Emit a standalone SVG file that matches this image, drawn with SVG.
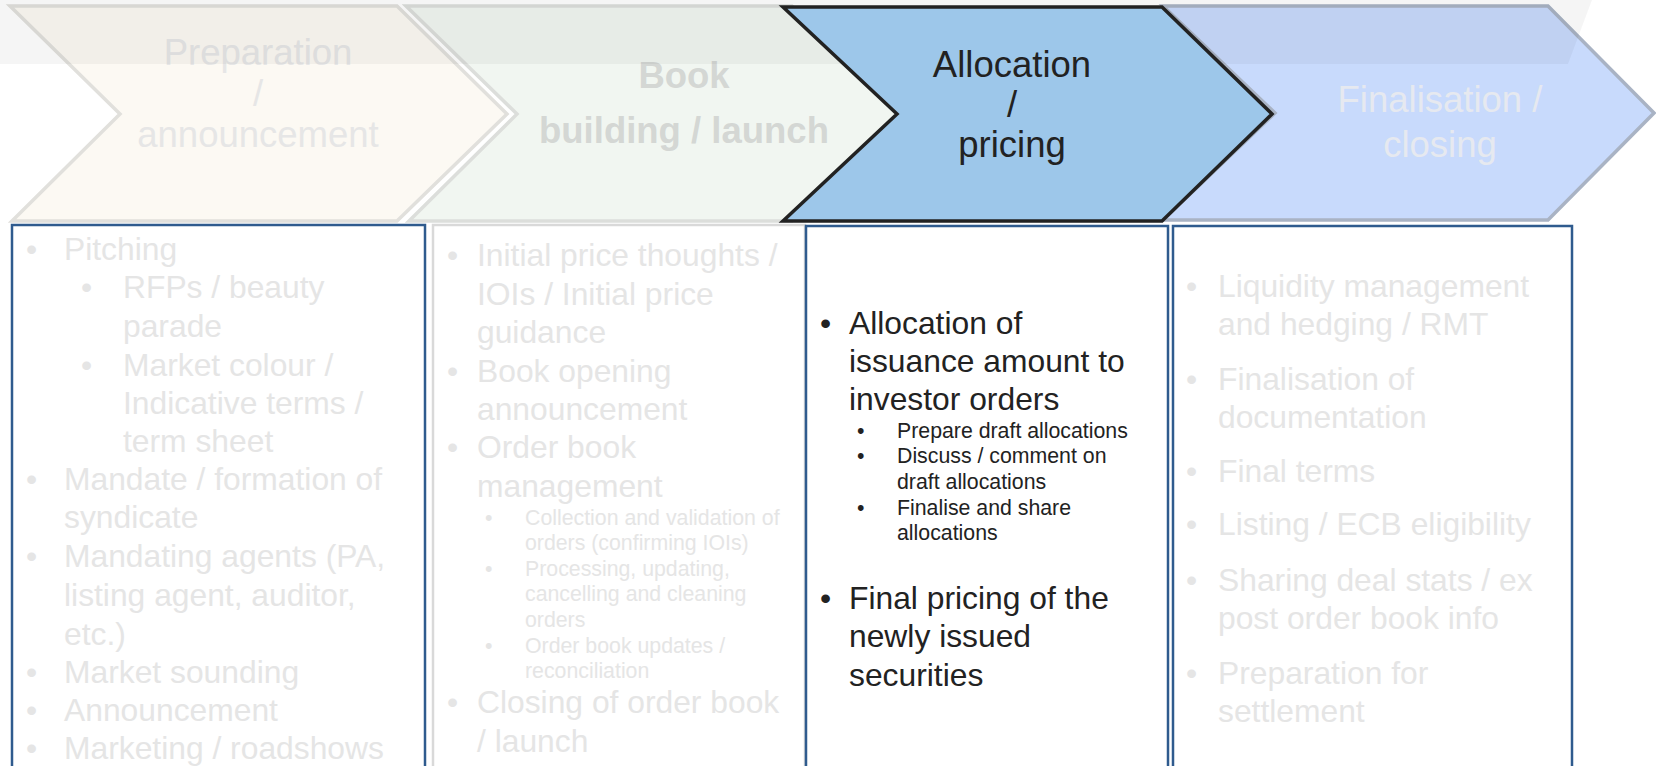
<svg xmlns="http://www.w3.org/2000/svg" width="1656" height="766" viewBox="0 0 1656 766">
<style>
text{font-family:"Liberation Sans",Arial,sans-serif}
.chv{stroke-width:3.5;stroke-linejoin:miter}
.ch{font-size:36.5px;text-anchor:middle}
.big{font-size:31.8px}
.sm{font-size:21.3px}
.faint{fill:#e5e5e5}
.dark{fill:#222222}
.box{fill:#ffffff;stroke:#2f5b8e;stroke-width:2.5}
</style>
<rect x="0" y="0" width="1656" height="766" fill="#ffffff"/>
<g id="chevron-preparation">
<polygon class="chv" points="10,6 397,6 507,114 397,221 12,221 120,114" fill="#fcf9f3" stroke="#e1e0dc"/>
<text class="ch" x="258" y="65" fill="#e6e6e6">Preparation</text>
<text class="ch" x="258" y="106" fill="#e6e6e6">/</text>
<text class="ch" x="258" y="147" fill="#e6e6e6">announcement</text>
</g>
<g id="chevron-bookbuilding">
<polygon class="chv" points="406,6 792,6 902,114 792,221 409,221 517,114" fill="#f1f6f1" stroke="#dcdedb"/>
<text class="ch" x="684" y="88" fill="#d4d7d4" font-weight="bold">Book</text>
<text class="ch" x="684" y="143" fill="#d4d7d4" font-weight="bold">building / launch</text>
</g>
<g id="chevron-finalisation">
<polygon class="chv" points="1163,6 1548,6 1654,113 1548,220 1163,220 1275,113" fill="#c8dafc" stroke="#a9b3c4"/>
<text class="ch" x="1440" y="112" fill="#e6e9f0">Finalisation /</text>
<text class="ch" x="1440" y="157" fill="#e6e9f0">closing</text>
</g>
<polygon id="shine" points="0,0 1592,0 1568,64 0,64" fill="#000000" opacity="0.04"/>
<g id="chevron-allocation">
<polygon class="chv" points="783,7 1162,7 1272,114 1162,221 783,221 897,114" fill="#9dc7ea" stroke="#222222"/>
<text class="ch dark" x="1012" y="77">Allocation</text>
<text class="ch dark" x="1012" y="117">/</text>
<text class="ch dark" x="1012" y="157">pricing</text>
</g>
<g id="box-preparation">
<rect class="box" x="12" y="225" width="413" height="580"/>
<g class="big faint">
<text x="26" y="260">•</text><text x="64" y="260">Pitching</text>
<text x="81" y="298">•</text><text x="123" y="298">RFPs / beauty</text>
<text x="123" y="337">parade</text>
<text x="81" y="376">•</text><text x="123" y="376">Market colour /</text>
<text x="123" y="414">Indicative terms /</text>
<text x="123" y="452">term sheet</text>
<text x="26" y="490">•</text><text x="64" y="490">Mandate / formation of</text>
<text x="64" y="528">syndicate</text>
<text x="26" y="567">•</text><text x="64" y="567">Mandating agents (PA,</text>
<text x="64" y="606">listing agent, auditor,</text>
<text x="64" y="645">etc.)</text>
<text x="26" y="683">•</text><text x="64" y="683">Market sounding</text>
<text x="26" y="721">•</text><text x="64" y="721">Announcement</text>
<text x="26" y="759">•</text><text x="64" y="759">Marketing / roadshows</text>
</g>
</g>
<g id="box-bookbuilding">
<rect x="433" y="225" width="372" height="580" fill="#ffffff" stroke="#d9d9d9" stroke-width="2.5"/>
<g class="big faint">
<text x="447" y="266">•</text><text x="477" y="266">Initial price thoughts /</text>
<text x="477" y="305">IOIs / Initial price</text>
<text x="477" y="343">guidance</text>
<text x="447" y="382">•</text><text x="477" y="382">Book opening</text>
<text x="477" y="420">announcement</text>
<text x="447" y="458">•</text><text x="477" y="458">Order book</text>
<text x="477" y="497">management</text>
<text x="447" y="713">•</text><text x="477" y="713">Closing of order book</text>
<text x="477" y="752">/ launch</text>
</g>
<g class="sm faint">
<text x="485" y="525">•</text><text x="525" y="525">Collection and validation of</text>
<text x="525" y="550">orders (confirming IOIs)</text>
<text x="485" y="576">•</text><text x="525" y="576">Processing, updating,</text>
<text x="525" y="601">cancelling and cleaning</text>
<text x="525" y="627">orders</text>
<text x="485" y="653">•</text><text x="525" y="653">Order book updates /</text>
<text x="525" y="678">reconciliation</text>
</g>
</g>
<g id="box-allocation">
<rect class="box" x="806" y="226" width="362" height="580"/>
<g class="big dark">
<text x="820" y="334">•</text><text x="849" y="334">Allocation of</text>
<text x="849" y="372">issuance amount to</text>
<text x="849" y="410">investor orders</text>
<text x="820" y="609">•</text><text x="849" y="609">Final pricing of the</text>
<text x="849" y="647">newly issued</text>
<text x="849" y="686">securities</text>
</g>
<g class="sm dark">
<text x="857" y="438">•</text><text x="897" y="438">Prepare draft allocations</text>
<text x="857" y="463">•</text><text x="897" y="463">Discuss / comment on</text>
<text x="897" y="489">draft allocations</text>
<text x="857" y="515">•</text><text x="897" y="515">Finalise and share</text>
<text x="897" y="540">allocations</text>
</g>
</g>
<g id="box-finalisation">
<rect class="box" x="1173" y="226" width="399" height="580"/>
<g class="big faint">
<text x="1186" y="297">•</text><text x="1218" y="297">Liquidity management</text>
<text x="1218" y="335">and hedging / RMT</text>
<text x="1186" y="390">•</text><text x="1218" y="390">Finalisation of</text>
<text x="1218" y="428">documentation</text>
<text x="1186" y="482">•</text><text x="1218" y="482">Final terms</text>
<text x="1186" y="535">•</text><text x="1218" y="535">Listing / ECB eligibility</text>
<text x="1186" y="591">•</text><text x="1218" y="591">Sharing deal stats / ex</text>
<text x="1218" y="629">post order book info</text>
<text x="1186" y="684">•</text><text x="1218" y="684">Preparation for</text>
<text x="1218" y="722">settlement</text>
</g>
</g>
</svg>
